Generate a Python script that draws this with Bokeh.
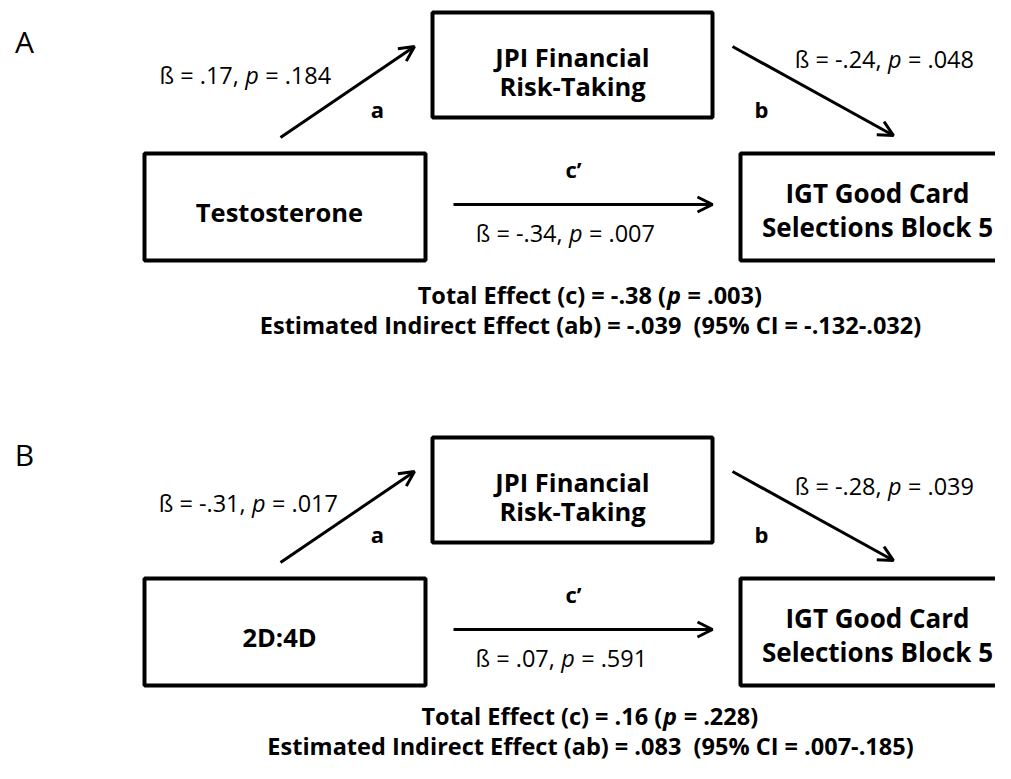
from bokeh.plotting import figure
from bokeh.models import Range1d, Arrow, OpenHead, ColumnDataSource
from bokeh.embed import file_html
from bokeh.resources import INLINE
from bokeh.core.properties import value

# ---------------- data (texts of the diagram) ----------------
panel_labels = ["A", "B"]
predictors = ["Testosterone", "2D:4D"]
mediator_lines = ["JPI Financial", "Risk-Taking"]
outcome_lines = ["IGT Good Card", "Selections Block 5"]
path_names = ["a", "b", "c\u2019"]
beta_a = [".17", "-.31"]
p_a = [".184", ".017"]
beta_b = ["-.24", "-.28"]
p_b = [".048", ".039"]
beta_c = ["-.34", ".07"]
p_c = [".007", ".591"]
total_c = ["-.38", ".16"]
p_total = [".003", ".228"]
indirect_ab = ["-.039", ".083"]
ci_low = ["-.132", ".007"]
ci_high = [".032", ".185"]

# ---------------- layout ----------------
FONT = value("Open Sans")
W, H = 995, 763
panel_dy = [0, 425]
letter_y = [41, 454]
label_a_y = [74, 502]
label_b_y = [58, 485]
bottom_dy = [0, 421]

p = figure(width=W, height=H, x_range=Range1d(0, W), y_range=Range1d(H, 0),
           output_backend="svg", toolbar_location=None, x_axis_type=None, y_axis_type=None,
           min_border=0)
p.grid.visible = False
p.outline_line_color = None
p.background_fill_color = "white"

REG = {' ': .26, ',': .245, '-': .322, '.': .266, '=': .572, '\u00df': .62, 'p': .6}
BOLD = {' ': .26, '-': .322, '.': .285, '=': .572, '(': .339, ')': .339, 'p': .63,
        'T': .56, 'o': .62, 't': .43, 'a': .59, 'l': .3, 'E': .54, 'f': .39, 'e': .6,
        'c': .51}

def width(s, size, bold):
    tab = BOLD if bold else REG
    return sum(tab.get(ch, .572) for ch in s) * size

def txt(xs, ys, texts, size, bold=False, italic=False, align="center"):
    style = "bold" if bold else "normal"
    if italic:
        style = "bold italic" if bold else "italic"
    p.text(x=xs, y=ys, text=texts, text_font=FONT, text_font_size="%.1fpx" % size,
           text_font_style=style, text_align=align, text_baseline="middle",
           text_color="black")

def stat(left, right, cx, y, size, bold=False, tight=False):
    tab = BOLD if bold else REG
    sp = tab[' '] * size
    pw = tab['p'] * size
    lw = width(left, size, bold)
    rw = width(right, size, bold)
    gap_l = 0.02 * size if tight else sp
    total = lw + gap_l + pw + sp + rw
    x0 = cx - total / 2
    txt([x0 + lw], [y], [left], size, bold, align="right")
    txt([x0 + lw + gap_l + pw / 2], [y], ["p"], size, bold, italic=True, align="center")
    txt([x0 + lw + gap_l + pw + sp], [y], [right], size, bold, align="left")

for i in range(2):
    dy = panel_dy[i]
    # panel letter
    txt([24], [letter_y[i]], [panel_labels[i]], 30)
    # boxes
    p.quad(left=[432, 144, 740], right=[712, 425, 1020],
           top=[12 + dy, 153 + dy, 153 + dy], bottom=[117 + dy, 260 + dy, 260 + dy],
           fill_color=None, line_color="black", line_width=4)
    # box texts
    txt([572, 572], [56 + dy, 85 + dy], mediator_lines, 25.5, bold=True)
    txt([279], [211 + dy], [predictors[i]], 25.5, bold=True)
    txt([877, 877], [192 + dy, 226 + dy], outcome_lines, 26, bold=True)
    # arrows
    src = ColumnDataSource(dict(x0=[280, 732, 453], y0=[137 + dy, 46 + dy, 204 + dy],
                                x1=[414, 893, 712], y1=[46 + dy, 135 + dy, 204 + dy]))
    p.add_layout(Arrow(x_start="x0", y_start="y0", x_end="x1", y_end="y1", source=src,
                       line_width=3, line_color="black",
                       end=OpenHead(size=15, line_width=3, line_color="black")))
    # path letters
    txt([377, 761, 573], [108 + dy, 108 + dy, 168 + dy], path_names, 22, bold=True)
    # path coefficients
    stat("\u00df = " + beta_a[i] + ",", "= " + p_a[i], [245, 248][i], label_a_y[i], 23.5)
    stat("\u00df = " + beta_b[i] + ",", "= " + p_b[i], 884, label_b_y[i], 23.5)
    stat("\u00df = " + beta_c[i] + ",", "= " + p_c[i], [565, 561][i], 232 + dy, 23.5)
    # bottom summary
    bdy = bottom_dy[i]
    stat("Total Effect (c) = " + total_c[i] + " (", "= " + p_total[i] + ")", 590,
         294 + bdy, 23.5, bold=True, tight=True)
    txt([590], [324 + bdy],
        ["Estimated Indirect Effect (ab) = " + indirect_ab[i] + " \u00a0(95% CI = "
         + ci_low[i] + "-" + ci_high[i] + ")"], 23.5, bold=True)

open("out.html", "w").write(file_html(p, INLINE))
